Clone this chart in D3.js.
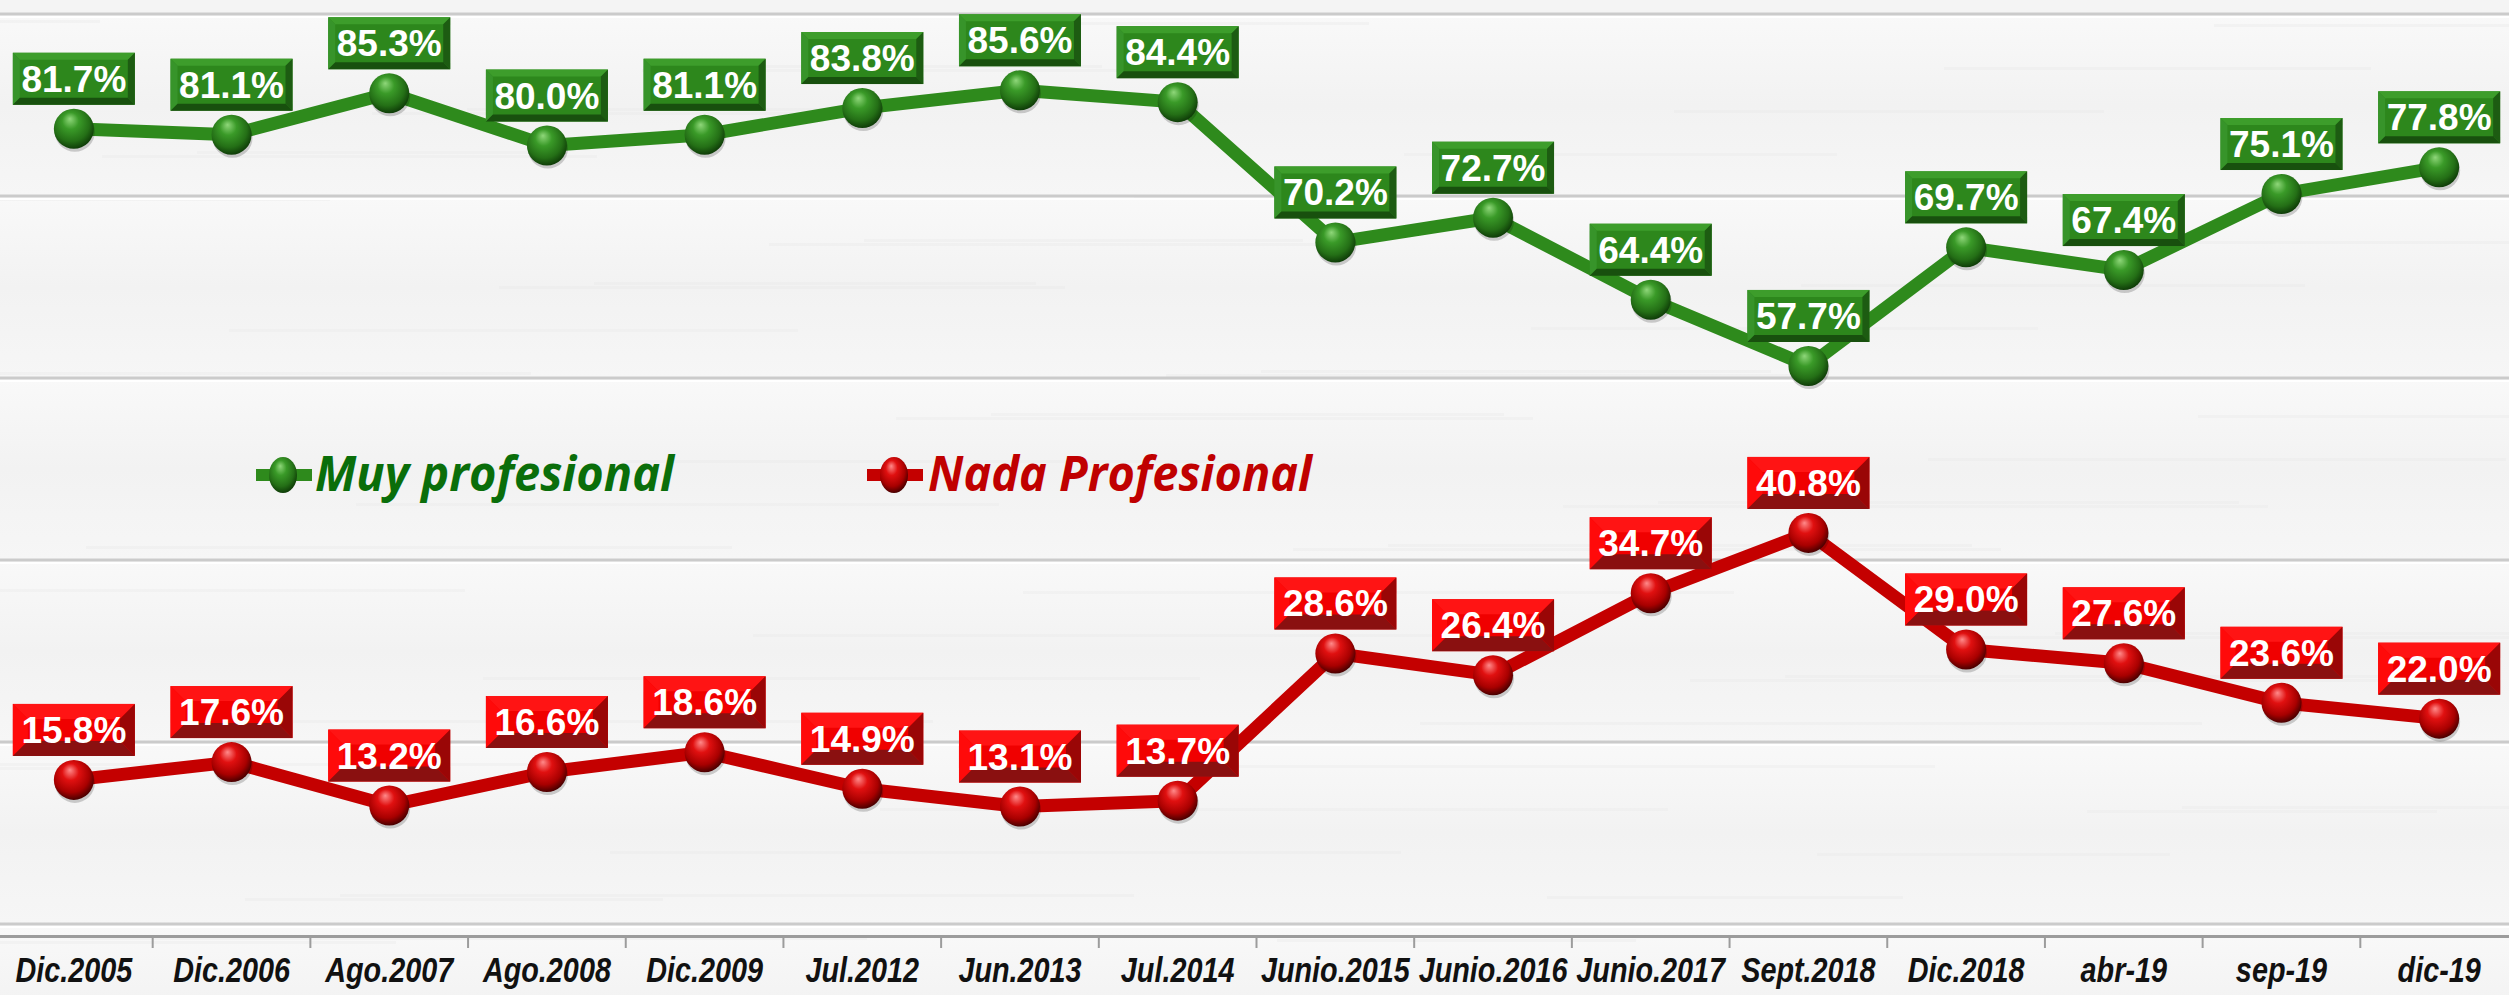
<!DOCTYPE html>
<html>
<head>
<meta charset="utf-8">
<script src="https://cdn.jsdelivr.net/npm/d3@7"></script>
<style>
  html, body { margin: 0; padding: 0; background: #f3f3f3; }
  svg { display: block; }
</style>
</head>
<body>
<div id="chart"></div>
<script>
const categories = ["Dic.2005", "Dic.2006", "Ago.2007", "Ago.2008", "Dic.2009", "Jul.2012", "Jun.2013", "Jul.2014",
  "Junio.2015", "Junio.2016", "Junio.2017", "Sept.2018", "Dic.2018", "abr-19", "sep-19", "dic-19"];
const muyProfesional = [81.7, 81.1, 85.3, 80.0, 81.1, 83.8, 85.6, 84.4, 70.2, 72.7, 64.4, 57.7, 69.7, 67.4, 75.1, 77.8];
const nadaProfesional = [15.8, 17.6, 13.2, 16.6, 18.6, 14.9, 13.1, 13.7, 28.6, 26.4, 34.7, 40.8, 29.0, 27.6, 23.6, 22.0];
const seriesNames = ["Muy profesional", "Nada Profesional"];

/*******************************/
/*    Declare the constants    */
/*******************************/
const width = 2509;
const height = 995;
const axisY = 936;

const series = [
  {name: seriesNames[0], values: muyProfesional, id: "green",
   line: "#2e8a1c", text: "#0a6e0a",
   box: {center: "#2d871c", top: "#3d9d2b", left: "#37942a", right: "#1d5c12", bottom: "#18500e", bevel: 7},
   ball: ["#8fd77a", "#3a9a28", "#246f16", "#0f3d08"]},
  {name: seriesNames[1], values: nadaProfesional, id: "red",
   line: "#c40000", text: "#c00000",
   box: {center: "#f00000", top: "#ff1414", left: "#ff0a0a", right: "#9a0606", bottom: "#8a1010", bevel: 15},
   ball: ["#ff8a8a", "#e01010", "#a80000", "#4a0000"]}
];

const svg = d3.select("#chart")
  .append("svg")
    .attr("width", width)
    .attr("height", height)
    .attr("viewBox", `0 0 ${width} ${height}`);

const defs = svg.append("defs");
series.forEach(s => {
  const g = defs.append("radialGradient")
      .attr("id", `ball-${s.id}`)
      .attr("cx", "45%").attr("cy", "40%").attr("r", "60%")
      .attr("fx", "40%").attr("fy", "25%");
  g.append("stop").attr("offset", "0%").attr("stop-color", s.ball[0]);
  g.append("stop").attr("offset", "35%").attr("stop-color", s.ball[1]);
  g.append("stop").attr("offset", "75%").attr("stop-color", s.ball[2]);
  g.append("stop").attr("offset", "100%").attr("stop-color", s.ball[3]);
});
const plankGrad = defs.append("linearGradient")
    .attr("id", "plank").attr("x1", 0).attr("y1", 0).attr("x2", 0).attr("y2", 1);
plankGrad.append("stop").attr("offset", "0%").attr("stop-color", "#f9f9f9");
plankGrad.append("stop").attr("offset", "50%").attr("stop-color", "#f2f2f2");
plankGrad.append("stop").attr("offset", "100%").attr("stop-color", "#f6f6f6");

/*******************************/
/*   Background wooden planks  */
/*******************************/
const plankEdges = d3.range(6).map(i => 14 + i * 182);
const bg = svg.append("g");
bg.append("rect").attr("width", width).attr("height", height).attr("fill", "#f4f4f4");
bg.selectAll(".plank")
  .data(plankEdges)
  .join("rect")
    .attr("x", 0).attr("y", d => d)
    .attr("width", width).attr("height", 182)
    .attr("fill", "url(#plank)");
// faint grain streaks
bg.selectAll(".grain")
  .data(d3.range(60))
  .join("rect")
    .attr("x", i => (i * 397) % width - 200)
    .attr("y", i => 20 + (i * 131) % 960)
    .attr("width", i => 300 + (i * 71) % 500)
    .attr("height", 3)
    .attr("fill", "#e9e9e9")
    .attr("opacity", 0.35);
bg.selectAll(".edge")
  .data(plankEdges)
  .join("line")
    .attr("x1", 0).attr("x2", width)
    .attr("y1", d => d).attr("y2", d => d)
    .attr("stroke", "#cbcbcb").attr("stroke-width", 3);
bg.selectAll(".edge-hi")
  .data(plankEdges)
  .join("line")
    .attr("x1", 0).attr("x2", width)
    .attr("y1", d => d + 3).attr("y2", d => d + 3)
    .attr("stroke", "#ffffff").attr("stroke-width", 2);

/****************************/
/*    Declare the scales    */
/****************************/
const xScale = d3.scaleBand()
  .domain(categories)
  .range([-5, 2518])
  .padding(0);
const xCenter = c => xScale(c) + xScale.bandwidth() / 2;

const yScale = d3.scaleLinear()
  .domain([0, 90])
  .range([axisY, axisY - 90 * 9.88]);

/**************************/
/*      Add the axes      */
/**************************/
const bottomAxis = d3.axisBottom(xScale)
  .tickSize(0)
  .tickSizeOuter(0)
  .tickPadding(0);
const axisG = svg.append("g")
  .attr("transform", `translate(0, ${axisY})`)
  .call(bottomAxis);
axisG.select(".domain").attr("stroke", "#9c9c9c").attr("stroke-width", 3);
// condensed bold italic, like Arial Narrow
axisG.selectAll(".tick text")
  .attr("y", 0)
  .attr("dy", 0)
  .attr("transform", "translate(0, 46) scale(0.8, 1)")
  .attr("fill", "#111")
  .style("font-family", "'Liberation Sans', Arial, sans-serif")
  .style("font-weight", "bold")
  .style("font-style", "italic")
  .style("font-size", "36px");
// ticks sit between categories
axisG.selectAll(".boundary")
  .data(categories.slice(1))
  .join("line")
    .attr("x1", d => xScale(d)).attr("x2", d => xScale(d))
    .attr("y1", 0).attr("y2", 12)
    .attr("stroke", "#9c9c9c").attr("stroke-width", 2);

/*******************************/
/*      Append the lines       */
/*******************************/
const lineGenerator = d3.line()
  .x((d, i) => xCenter(categories[i]))
  .y(d => yScale(d));

series.forEach(s => {
  svg.append("path")
    .attr("d", lineGenerator(s.values))
    .attr("fill", "none")
    .attr("stroke", s.line)
    .attr("stroke-width", 13)
    .attr("stroke-linejoin", "round");
});

series.forEach(s => {
  const g = svg.append("g");
  // shadow
  g.selectAll(".shadow")
    .data(s.values)
    .join("circle")
      .attr("cx", (d, i) => xCenter(categories[i]) + 1)
      .attr("cy", d => yScale(d) + 3)
      .attr("r", 20)
      .attr("fill", "#000")
      .attr("opacity", 0.18);
  g.selectAll(".ball")
    .data(s.values)
    .join("circle")
      .attr("cx", (d, i) => xCenter(categories[i]))
      .attr("cy", d => yScale(d))
      .attr("r", 20)
      .attr("fill", `url(#ball-${s.id})`);
});

/*******************************/
/*     Append the labels       */
/*******************************/
const boxW = 122;
const boxH = 52;
series.forEach(s => {
  const labels = svg.append("g")
    .selectAll("g")
    .data(s.values)
    .join("g")
      .attr("transform", (d, i) => `translate(${xCenter(categories[i]) - boxW / 2}, ${yScale(d) - 50 - boxH / 2})`);
  const b = s.box.bevel;
  labels.append("rect")
    .attr("width", boxW).attr("height", boxH)
    .attr("fill", s.box.center);
  labels.append("polygon")
    .attr("points", `0,0 ${boxW},0 ${boxW - b},${b} ${b},${b}`)
    .attr("fill", s.box.top);
  labels.append("polygon")
    .attr("points", `0,0 ${b},${b} ${b},${boxH - b} 0,${boxH}`)
    .attr("fill", s.box.left);
  labels.append("polygon")
    .attr("points", `${boxW},0 ${boxW},${boxH} ${boxW - b},${boxH - b} ${boxW - b},${b}`)
    .attr("fill", s.box.right);
  labels.append("polygon")
    .attr("points", `0,${boxH} ${boxW},${boxH} ${boxW - b},${boxH - b} ${b},${boxH - b}`)
    .attr("fill", s.box.bottom);
  labels.append("text")
    .attr("x", boxW / 2)
    .attr("y", boxH / 2 + 13)
    .attr("text-anchor", "middle")
    .attr("fill", "#fff")
    .style("font-family", "'Liberation Sans', Arial, sans-serif")
    .style("font-weight", "bold")
    .style("font-size", "37px")
    .text(d => `${d.toFixed(1)}%`);
});

/*******************************/
/*        Add the legend       */
/*******************************/
const legendItems = [
  {s: series[0], cx: 283, textX: 315, textW: 359},
  {s: series[1], cx: 894, textX: 928, textW: 384}
];
const legend = svg.append("g");
legendItems.forEach(item => {
  legend.append("line")
    .attr("x1", item.cx - 27).attr("x2", item.cx + 29)
    .attr("y1", 475).attr("y2", 475)
    .attr("stroke", item.s.line)
    .attr("stroke-width", 12);
  legend.append("ellipse")
    .attr("cx", item.cx).attr("cy", 475)
    .attr("rx", 14).attr("ry", 18)
    .attr("fill", `url(#ball-${item.s.id})`);
  legend.append("text")
    .attr("x", item.textX)
    .attr("y", 491)
    .attr("fill", item.s.text)
    .attr("textLength", item.textW)
    .attr("lengthAdjust", "spacingAndGlyphs")
    .style("font-family", "'Open Sans', 'Noto Sans', sans-serif")
    .style("font-weight", "bold")
    .style("font-style", "italic")
    .style("font-size", "49px")
    .text(item.s.name);
});
</script>
</body>
</html>
